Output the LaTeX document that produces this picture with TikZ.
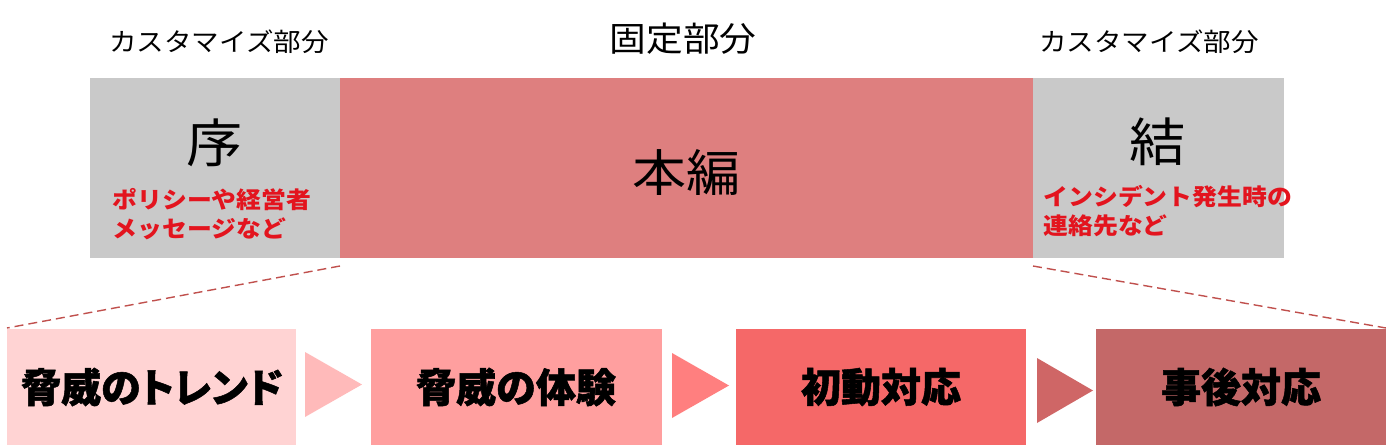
\documentclass[tikz,border=0pt]{standalone}
\usepackage{fontspec}
\setmainfont{Noto Sans CJK JP}[FakeStretch=1.08]
\newfontfamily\jpbold{Noto Sans CJK JP}[FakeBold=1.3]
\newfontfamily\jpboldprop{Noto Sans CJK JP}[FakeBold=1.3,RawFeature=+palt]
\definecolor{graybox}{HTML}{C9C9C9}
\definecolor{mainred}{HTML}{DE7F7F}
\definecolor{boxA}{HTML}{FFD3D3}
\definecolor{arrA}{HTML}{FFBABA}
\definecolor{boxB}{HTML}{FF9F9F}
\definecolor{arrB}{HTML}{FF7F7F}
\definecolor{boxC}{HTML}{F56868}
\definecolor{arrC}{HTML}{CF6666}
\definecolor{boxD}{HTML}{C46868}
\definecolor{redtext}{HTML}{E3141E}
\definecolor{dashred}{HTML}{C0504D}
\begin{document}
\begin{tikzpicture}[x=1pt,y=-1pt,
  steplabel/.style={font=\fontsize{40}{44}\selectfont\bfseries, text=black},
  partlabel/.style={font=\fontsize{25.5}{28}\selectfont},
  notetext/.style={font=\fontsize{23}{29}\selectfont\bfseries, text=redtext, align=left, anchor=west},
  zoomline/.style={draw=dashred, line width=1.4pt, dash pattern=on 9pt off 5pt}
]
\useasboundingbox (0,0) rectangle (1386,447);
% top boxes
\fill[graybox] (90,78) rectangle (340,258);
\fill[mainred] (340,78) rectangle (1033,258);
\fill[graybox] (1033,78) rectangle (1284,258);
\coordinate (jo-br) at (340,266);
\coordinate (ketsu-bl) at (1033,266);
% labels above
\node[partlabel] (lblL) at (219,42) {カスタマイズ部分};
\node[font=\fontsize{34}{38}\selectfont] (lblM) at (683,39) {固定部分};
\node[partlabel] (lblR) at (1149,42) {カスタマイズ部分};
% box texts
\node[font=\fontsize{52}{54}\selectfont] (jo) at (215,143) {序};
\node[notetext] (joNote) at (109,214) {ポリシーや経営者\\メッセージなど};
\node[font=\fontsize{50}{54}\selectfont] (hon) at (686,172) {本編};
\node[font=\fontsize{52}{54}\selectfont] (ketsu) at (1158,142) {結};
\node[notetext] (ketsuNote) at (1040,211) {インシデント発生時の\\連絡先など};
% bottom boxes
\fill[boxA] (7,329) rectangle (296,445);
\fill[boxB] (371,329) rectangle (662,445);
\fill[boxC] (736,329) rectangle (1026,445);
\fill[boxD] (1096,329) rectangle (1386,445);
\node[steplabel] (s1) at (152,387) {\jpboldprop 脅威のトレンド};
\node[steplabel] (s2) at (516,387) {\jpbold 脅威の体験};
\node[steplabel] (s3) at (881,387) {\jpbold 初動対応};
\node[steplabel] (s4) at (1241,387) {\jpbold 事後対応};
\coordinate (s1-tl) at (7,328);
\coordinate (s4-tr) at (1386,328);
% chevrons
\fill[arrA] (305,352) -- (362,384.5) -- (305,417) -- cycle;
\fill[arrB] (672,353) -- (729,385.5) -- (672,418) -- cycle;
\fill[arrC] (1037,358) -- (1093,390.5) -- (1037,423) -- cycle;
% zoom lines
\draw[zoomline] (jo-br) -- (s1-tl);
\draw[zoomline] (ketsu-bl) -- (s4-tr);
\end{tikzpicture}
\end{document}
